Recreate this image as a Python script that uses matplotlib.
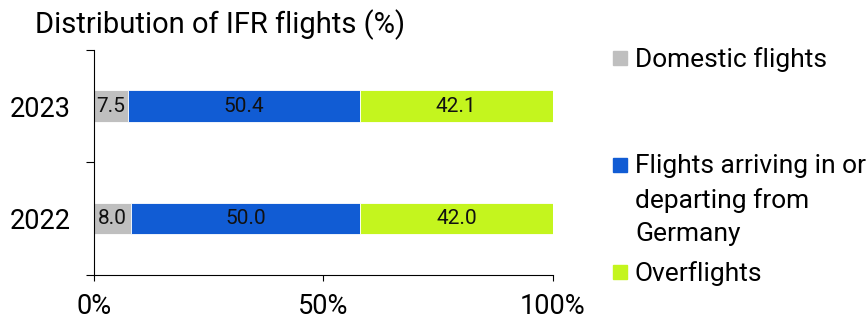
import matplotlib.pyplot as plt
from matplotlib.patches import Rectangle

years = ["2022", "2023"]
domestic = [8.0, 7.5]
arriving = [50.0, 50.4]
overflights = [42.0, 42.1]
series_names = ["Domestic flights", "Flights arriving in or\ndeparting from\nGermany", "Overflights"]
colors = ["#BFBFBF", "#115CD4", "#C4F51E"]
x_ticks = [0, 50, 100]

plt.rcParams['font.family'] = ['Roboto', 'DejaVu Sans']

fig = plt.figure(figsize=(8.67, 3.2), dpi=100)
ax = fig.add_axes([0.1084, 0.1406, 0.5294, 0.7034])

ypos = list(range(len(years)))
left = [0] * len(years)
for vals, col in zip([domestic, arriving, overflights], colors):
    bars = ax.barh(ypos, vals, left=left, height=0.28, color=col, edgecolor='white', linewidth=0.6)
    for b, v in zip(bars, vals):
        ax.text(b.get_x() + b.get_width() / 2, b.get_y() + b.get_height() / 2, f"{v:.1f}",
                ha='center', va='center', fontsize=15, color='#111111')
    left = [l + v for l, v in zip(left, vals)]

ax.set_xlim(0, 100)
ax.set_ylim(-0.5, 1.5)
ax.set_xticks(x_ticks)
ax.set_xticklabels([f"{t}%" for t in x_ticks], fontsize=19.5)
ax.set_yticks(ypos)
ax.set_yticklabels(years, fontsize=19.5)
ax.tick_params(axis='y', length=0, pad=17)
ax.set_yticks([-0.5, 0.5, 1.5], minor=True)
ax.tick_params(axis='y', which='minor', length=6, width=0.8)
ax.tick_params(axis='x', length=4, width=0.8, pad=9)
for s in ['top', 'right']:
    ax.spines[s].set_visible(False)
ax.spines['left'].set_linewidth(0.8)
ax.spines['bottom'].set_linewidth(0.8)

fig.text(35 / 867, 1 - 25 / 320, "Distribution of IFR flights (%)", fontsize=21, va='center', ha='left')

# legend, placed by hand (y of first line centre, pixels)
leg_y = [58, 165, 272]
for name, col, yy in zip(series_names, colors, leg_y):
    fig.patches.append(Rectangle((613 / 867, 1 - (yy + 7) / 320), 14 / 867, 14 / 320,
                                 transform=fig.transFigure, color=col))
    fig.text(635 / 867, 1 - (yy - 11) / 320, name, fontsize=19, va='top', ha='left', linespacing=1.48)

fig.savefig("out.png", dpi=100)
